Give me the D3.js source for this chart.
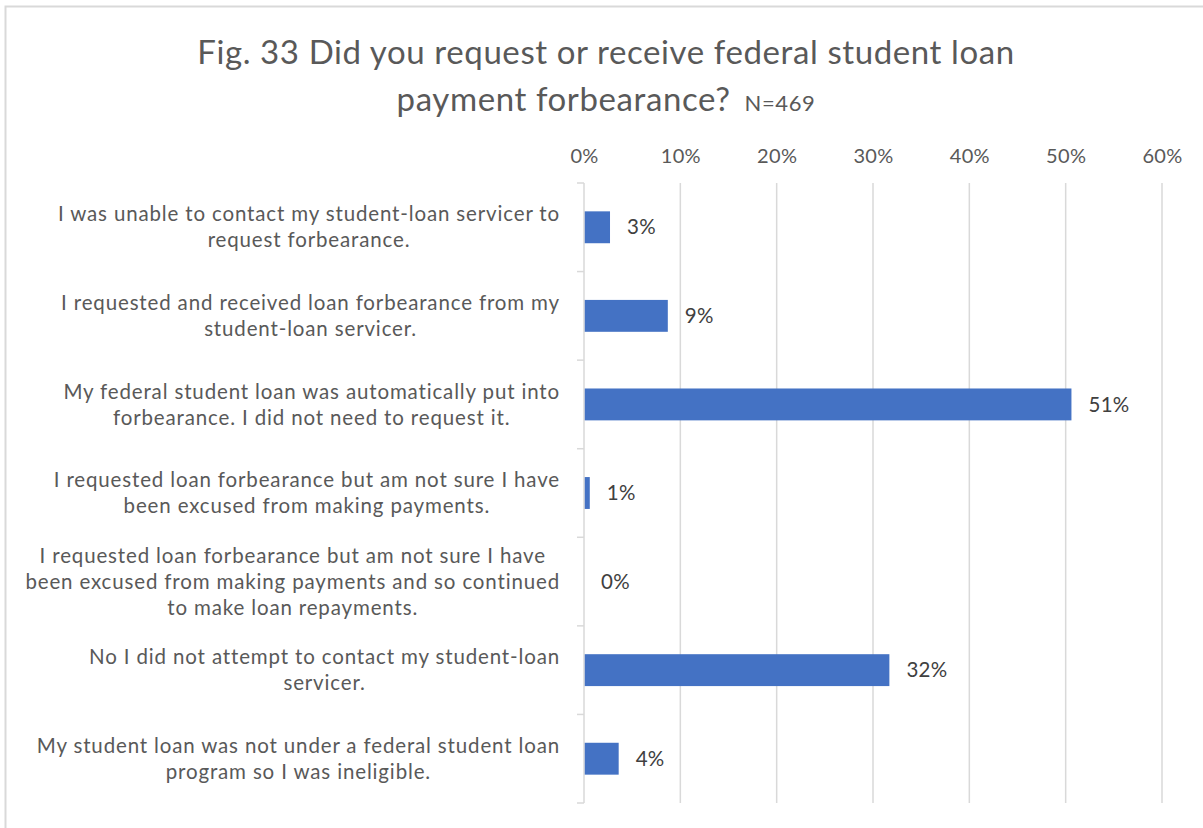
<!DOCTYPE html>
<html>
<head>
<meta charset="utf-8">
<script src="https://cdn.jsdelivr.net/npm/d3@7"></script>
<style>
  html, body { margin: 0; padding: 0; background: #fff; }
  svg { display: block; }
  text { font-family: Lato, "Open Sans", sans-serif; }
</style>
</head>
<body>
<svg id="chart" width="1203" height="828"></svg>
<script>
// Survey responses (share of respondents, %)
const categories = [
  ["I was unable to contact my student-loan servicer to", "request forbearance."],
  ["I requested and received loan forbearance from my", "student-loan servicer."],
  ["My federal student loan was automatically put into", "forbearance. I did not need to request it."],
  ["I requested loan forbearance but am not sure I have", "been excused from making payments."],
  ["I requested loan forbearance but am not sure I have", "been excused from making payments and so continued", "to make loan repayments."],
  ["No I did not attempt to contact my student-loan", "servicer."],
  ["My student loan was not under a federal student loan", "program so I was ineligible."]
];
const values = [2.7, 8.7, 50.6, 0.6, 0, 31.7, 3.6];
const xTicks = [0, 10, 20, 30, 40, 50, 60];
const titleLines = ["Fig. 33 Did you request or receive federal student loan", "payment forbearance?"];
const sampleNote = "N=469";

const svg = d3.select("#chart");
const W = 1203, H = 828;
const margin = { top: 183, left: 584, right: 41, bottom: 25 };
const plotW = W - margin.left - margin.right;
const plotH = H - margin.top - margin.bottom;

// Outer chart frame
svg.append("rect")
  .attr("x", 5.5).attr("y", 6.5)
  .attr("width", 1200).attr("height", 830)
  .attr("fill", "none").attr("stroke", "#d9d9d9").attr("stroke-width", 2);

const idx = d3.range(categories.length);
const x = d3.scaleLinear().domain([0, 60]).range([0, plotW]);
const y = d3.scaleBand().domain(idx).range([0, plotH]).paddingInner(0.64).paddingOuter(0.32);
const yEdge = d3.scaleLinear().domain([0, categories.length]).range([0, plotH]);

const g = svg.append("g").attr("transform", `translate(${margin.left},${margin.top})`);

// Vertical gridlines
g.append("g").selectAll("line")
  .data(xTicks.slice(1))
  .join("line")
  .attr("x1", d => x(d)).attr("x2", d => x(d))
  .attr("y1", 0).attr("y2", plotH)
  .attr("stroke", "#d9d9d9").attr("stroke-width", 1.5);

// Percentage axis on top
const xAxis = g.append("g")
  .call(d3.axisTop(x).tickValues(xTicks).tickFormat(d => d + "%").tickSize(0).tickPadding(20));
xAxis.select(".domain").remove();
xAxis.selectAll("text")
  .attr("fill", "#595959").attr("font-size", 20)
  .attr("letter-spacing", 0.3)
  .attr("font-family", "Lato, sans-serif");

// Category axis line with tick marks at band edges
g.append("line")
  .attr("x1", 0).attr("x2", 0).attr("y1", 0).attr("y2", plotH)
  .attr("stroke", "#d9d9d9").attr("stroke-width", 1.5);
g.append("g").selectAll("line")
  .data(d3.range(categories.length + 1))
  .join("line")
  .attr("x1", -7).attr("x2", 0)
  .attr("y1", d => yEdge(d)).attr("y2", d => yEdge(d))
  .attr("stroke", "#d9d9d9").attr("stroke-width", 1.5);

// Bars
g.append("g").selectAll("rect")
  .data(idx)
  .join("rect")
  .attr("x", 0.75)
  .attr("y", i => y(i))
  .attr("width", i => Math.max(0, x(values[i]) - 0.75))
  .attr("height", y.bandwidth())
  .attr("fill", "#4472c4");

// Value labels
const fmt = v => d3.format(".0f")(v) + "%";
g.append("g").selectAll("text")
  .data(idx)
  .join("text")
  .attr("x", i => x(values[i]) + 17)
  .attr("y", i => y(i) + y.bandwidth() / 2)
  .attr("dy", "0.35em")
  .attr("fill", "#404040")
  .attr("font-size", 20.5)
  .attr("letter-spacing", 0.3)
  .text(i => fmt(values[i]));

// Category labels: wrapped block right-aligned to the axis, lines centred in the block
const labelRight = margin.left - 24;
const lineH = 26;
const labels = svg.append("g");
idx.forEach(i => {
  const lines = categories[i];
  const cy = margin.top + y(i) + y.bandwidth() / 2;
  const grp = labels.append("g");
  const texts = lines.map((ln, k) => grp.append("text")
    .attr("y", cy + (k - (lines.length - 1) / 2) * lineH)
    .attr("dy", "0.35em")
    .attr("text-anchor", "middle")
    .attr("fill", "#595959")
    .attr("font-size", 20.5)
    .attr("letter-spacing", 0.85)
    .text(ln));
  const maxW = d3.max(texts, t => t.node().getComputedTextLength());
  texts.forEach(t => t.attr("x", labelRight - maxW / 2));
});

// Title
const title = svg.append("g").attr("fill", "#595959");
title.append("text")
  .attr("x", 606).attr("y", 64)
  .attr("text-anchor", "middle").attr("font-size", 33)
  .attr("letter-spacing", 0.6)
  .text(titleLines[0]);
const t2 = title.append("text")
  .attr("x", 606).attr("y", 111)
  .attr("text-anchor", "middle").attr("font-size", 33)
  .attr("letter-spacing", 0.6);
t2.append("tspan").text(titleLines[1]);
t2.append("tspan").attr("font-size", 22).attr("dx", 14).text(sampleNote);
</script>
</body>
</html>
